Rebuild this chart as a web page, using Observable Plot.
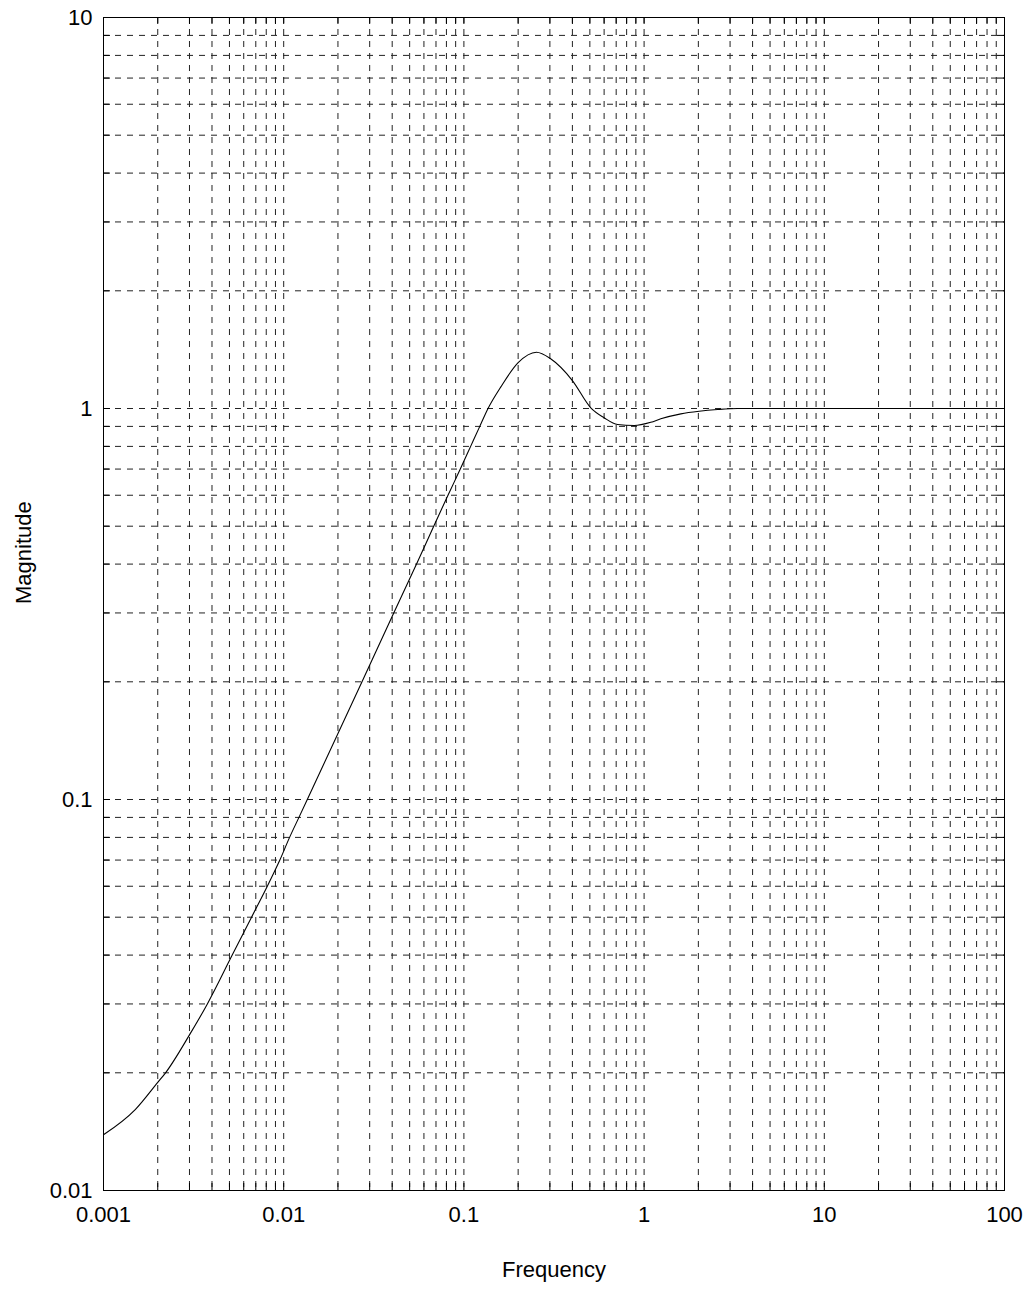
<!DOCTYPE html>
<html><head><meta charset="utf-8">
<script src="https://cdn.jsdelivr.net/npm/d3@7"></script>
<script src="https://cdn.jsdelivr.net/npm/@observablehq/plot@0.6"></script>
<style>body{margin:0;background:#fff}</style>
</head><body><div id="chart"></div>
<script>
// Curve values (frequency, magnitude)
const frequency = [0.001, 0.0015, 0.002, 0.00221, 0.003, 0.00377, 0.00518, 0.00663, 0.00811, 0.00952, 0.01078, 0.01215, 0.01352, 0.0272, 0.0408, 0.0546, 0.068, 0.0816, 0.0955, 0.109, 0.1225, 0.1361, 0.160, 0.200, 0.2527, 0.303, 0.400, 0.506, 0.600, 0.712, 0.880, 1.089, 1.238, 1.60, 2.02, 2.56, 3.30, 5, 10, 100];
const magnitude = [0.01388, 0.0161, 0.0189, 0.02, 0.0250, 0.03, 0.04, 0.05, 0.06, 0.07, 0.08, 0.09, 0.1, 0.2, 0.3, 0.4, 0.5, 0.6, 0.7, 0.8, 0.9, 1.0, 1.134, 1.31, 1.393, 1.340, 1.179, 1.004, 0.947, 0.910, 0.905, 0.922, 0.941, 0.969, 0.984, 0.994, 1.0, 1.0, 1.0, 1.0];

// Axis tick labels
const xTickValues = [0.001, 0.01, 0.1, 1, 10, 100];
const yTickValues = [0.01, 0.1, 1, 10];
const gridMultipliers = [1, 2, 3, 4, 5, 6, 7, 8, 9];

const xGrid = xTickValues.slice(0, -1).flatMap(d => gridMultipliers.map(k => +(d * k).toPrecision(3))).filter(v => v > 0.001);
const yGrid = yTickValues.slice(0, -1).flatMap(d => gridMultipliers.map(k => +(d * k).toPrecision(3))).filter(v => v > 0.01);

const data = frequency.map((f, i) => ({f, m: magnitude[i]}));

const W = 1028, H = 1293, mL = 103, mR = 24, mT = 17, mB = 103;
const plotH = H - mT - mB;
const plotW = W - mL - mR;
const tick = 7;
const gridStyle = {stroke: "#222", strokeWidth: 1, strokeDasharray: "6,6"};

const chart = Plot.plot({
  width: W, height: H,
  marginLeft: mL, marginRight: mR, marginTop: mT, marginBottom: mB,
  style: {fontFamily: "'Liberation Sans', Arial, sans-serif", fontSize: "22px", background: "#fff", color: "#000"},
  x: {type: "log", domain: [0.001, 100]},
  y: {type: "log", domain: [0.01, 10]},
  marks: [
    Plot.ruleX(xGrid, gridStyle),
    Plot.ruleY(yGrid, gridStyle),
    Plot.tickX(xGrid, {stroke: "#000", insetTop: plotH - tick}),
    Plot.tickX(xGrid, {stroke: "#000", insetBottom: plotH - tick}),
    Plot.tickY(yGrid, {stroke: "#000", insetRight: plotW - tick}),
    Plot.tickY(yGrid, {stroke: "#000", insetLeft: plotW - tick}),
    Plot.axisX({ticks: xTickValues, tickFormat: d => String(d), tickSize: 0, tickPadding: 16, label: null}),
    Plot.axisY({ticks: yTickValues, tickFormat: d => String(d), tickSize: 0, tickPadding: 11, label: null}),
    Plot.frame({stroke: "#000", strokeWidth: 1}),
    Plot.line(data, {x: "f", y: "m", stroke: "#000", strokeWidth: 1.1, curve: "monotone-x"}),
    Plot.text(["Frequency"], {frameAnchor: "bottom", dy: 86, fontSize: 22}),
    Plot.text(["Magnitude"], {frameAnchor: "left", dx: -80, rotate: -90, fontSize: 22})
  ]
});
document.getElementById("chart").appendChild(chart);
</script>
</body></html>
